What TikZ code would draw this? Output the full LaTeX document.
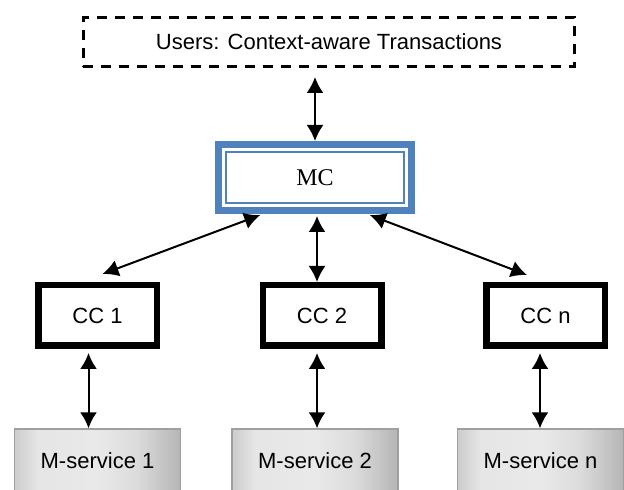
\documentclass[tikz,border=0pt]{standalone}
\usepackage{fontspec}
\setmainfont{Liberation Sans}
\newfontfamily\serifmc{Liberation Serif}
\usepackage{tikz}
\usetikzlibrary{positioning, arrows.meta, calc}
\definecolor{mcblue}{rgb}{0.31,0.51,0.74}
% light band on the left half, darker towards the right edge
\pgfdeclarehorizontalshading{msglow}{100bp}{%
  color(0bp)=(gray!40); color(25bp)=(gray!40); color(32bp)=(gray!20); color(50bp)=(gray!17);
  color(62bp)=(gray!28); color(75bp)=(gray!58); color(100bp)=(gray!58)}
\tikzstyle{usr}=[%
      rectangle, draw=black, line width=1.4pt, dash pattern=on 5pt off 4pt, fill=none,
      minimum width=245.6pt, minimum height=24.6pt, inner sep=0pt, font=\fontsize{11}{13}\selectfont
]
\tikzstyle{mc}=[%
      rectangle, draw=mcblue, line width=3.5pt, fill=white,
      minimum width=96.5pt, minimum height=33pt, inner sep=0pt, font=\serifmc\fontsize{12}{14}\selectfont
]
\tikzstyle{cc}=[%
      rectangle, draw=black, line width=3.25pt, fill=white,
      minimum width=59.25pt, minimum height=30.25pt, inner sep=0pt, font=\fontsize{11}{13}\selectfont
]
\tikzstyle{ms}=[%
      rectangle, draw=gray!75, line width=0.7pt, shade, shading=msglow,
      minimum width=83pt, minimum height=32pt, inner sep=0pt, font=\fontsize{11}{13}\selectfont
]

\begin{document}
\begin{tikzpicture}[x=0.5pt, y=-0.5pt,
    line width=1pt,
    {Latex[length=8pt,width=8.5pt]}-{Latex[length=8pt,width=8.5pt]}
  ]
    \clip (0,0) rectangle (624,490);

    \node[usr] (usr) at (329,42)    {Users: Context-aware Transactions};
    \node[mc]  (MC)  at (315,177.5) {MC};
    \draw[-, mcblue, line width=1pt] ([shift={(5.5pt,5.5pt)}]MC.south west) rectangle ([shift={(-5.5pt,-5.5pt)}]MC.north east);

    \node[cc] (CC1) at (97.5,315.5)  {CC 1};
    \node[cc] (CC2) at (322,315.5)   {CC 2};
    \node[cc] (CCn) at (545.5,315.5) {CC n};

    \node[ms] (Ms1) at (97.5,461)  {M-service 1};
    \node[ms] (Ms2) at (315,461)   {M-service 2};
    \node[ms] (Msn) at (540.5,461) {M-service n};

    \path (usr.south -| MC.north) edge[shorten <=4.5pt] (MC.north)
          ($(MC.south west)!0.24!(MC.south east)$) edge[shorten <=1.5pt] ([xshift=2.5pt,yshift=4pt]CC1.north)
          ([xshift=1pt]MC.south) edge[shorten <=1pt] ([xshift=1pt]MC.south |- CC2.north)
          ($(MC.south west)!0.76!(MC.south east)$) edge[shorten <=1.5pt] ([xshift=-9.25pt,yshift=3.5pt]CCn.north)
          ([xshift=-4.5pt]CC1.south) edge[shorten <=2pt] ([xshift=-4.5pt]CC1.south |- Ms1.north)
          ([xshift=-2.5pt]CC2.south) edge[shorten <=2pt] ([xshift=-2.5pt]CC2.south |- Ms2.north)
          ([xshift=-2.75pt]CCn.south) edge[shorten <=2pt] ([xshift=-2.75pt]CCn.south |- Msn.north)
    ;

  \end{tikzpicture}
\end{document}
